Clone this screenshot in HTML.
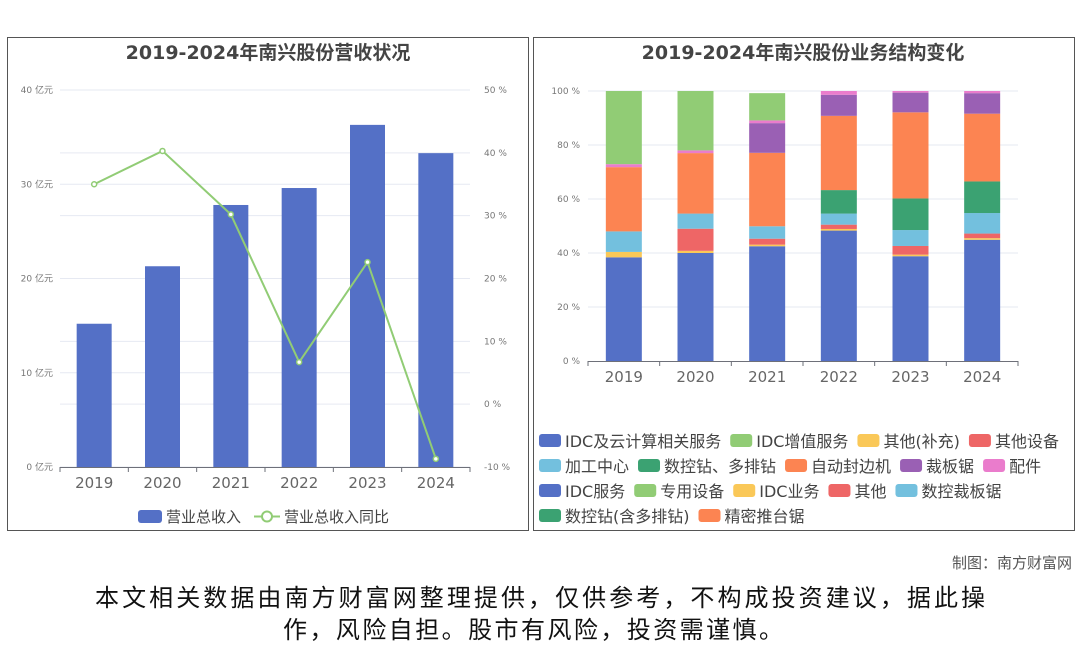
<!DOCTYPE html>
<html><head><meta charset="utf-8">
<style>
body{margin:0;background:#fff;width:1080px;height:646px;overflow:hidden;font-family:"DejaVu Sans","Noto Sans CJK SC",sans-serif;}
svg text{font-family:"DejaVu Sans","Noto Sans CJK SC",sans-serif;}
</style></head><body>
<svg width="1080" height="646" xmlns="http://www.w3.org/2000/svg">
<rect x="7.5" y="37.5" width="521" height="493" fill="#fff" stroke="#555"/>
<rect x="533.5" y="37.5" width="541" height="493" fill="#fff" stroke="#555"/>
<text x="268" y="59" text-anchor="middle" font-size="19" font-weight="bold" fill="#444">2019-2024年南兴股份营收状况</text>
<text x="803" y="59" text-anchor="middle" font-size="19" font-weight="bold" fill="#444">2019-2024年南兴股份业务结构变化</text>
<g id="left"></g>
<g id="right"></g>
<g id="rlegend"></g>
<text x="1072" y="568" text-anchor="end" font-size="15" fill="#555">制图：南方财富网</text>
<text x="95" y="606" textLength="890" lengthAdjust="spacing" font-size="24" fill="#111">本文相关数据由南方财富网整理提供，仅供参考，不构成投资建议，据此操</text>
<text x="283" y="638" textLength="500" lengthAdjust="spacing" font-size="24" fill="#111">作，风险自担。股市有风险，投资需谨慎。</text>
</svg>
<script>
const years=["2019","2020","2021","2022","2023","2024"];
const revenue=[15.2,21.3,27.8,29.6,36.3,33.3];
const growth=[35.0,40.3,30.2,6.7,22.6,-8.7];
const leftTicks=["0 亿元","10 亿元","20 亿元","30 亿元","40 亿元"];
const rightTicks=["-10 %","0 %","10 %","20 %","30 %","40 %","50 %"];
const segNames=["IDC及云计算相关服务","其他(补充)","其他设备","加工中心","数控钻、多排钻","自动封边机","裁板锯","配件","IDC增值服务"];
const segColors=["#5470c6","#fac858","#ee6666","#73c0de","#3ba272","#fc8452","#9a60b4","#ea7ccc","#91cc75"];
const segBlue=[38.4,40.0,42.5,48.3,38.8,44.9];
const segYellow=[2.0,0.8,0.6,0.6,0.6,0.6];
const segRed=[0,8.2,2.2,1.6,3.2,1.7];
const segLightBlue=[7.6,5.6,4.6,4.1,5.9,7.6];
const segDarkGreen=[0,0,0,8.7,11.7,11.7];
const segOrange=[23.8,22.4,27.2,27.5,31.9,25.1];
const segPurple=[0,0,11.0,7.8,7.3,7.6];
const segPink=[1.1,1.0,1.0,1.4,0.6,0.8];
const segGreen=[27.1,22.0,10.1,0,0,0];
const segData=[segBlue,segYellow,segRed,segLightBlue,segDarkGreen,segOrange,segPurple,segPink,segGreen];
const pctTicks=["0 %","20 %","40 %","60 %","80 %","100 %"];
const legendNames=["IDC及云计算相关服务","IDC增值服务","其他(补充)","其他设备","加工中心","数控钻、多排钻","自动封边机","裁板锯","配件","IDC服务","专用设备","IDC业务","其他","数控裁板锯","数控钻(含多排钻)","精密推台锯"];
const legendColors=["#5470c6","#91cc75","#fac858","#ee6666","#73c0de","#3ba272","#fc8452","#9a60b4","#ea7ccc","#5470c6","#91cc75","#fac858","#ee6666","#73c0de","#3ba272","#fc8452"];
const legendRows=[4,5,5,2];

const NS="http://www.w3.org/2000/svg";
function mk(p,t,a){const e=document.createElementNS(NS,t);for(const k in a)e.setAttribute(k,a[k]);p.appendChild(e);return e;}

// LEFT
const L=document.getElementById('left');
const lx0=60,lx1=470,ly0=467,ly1=90;
const band=(lx1-lx0)/years.length;
const xL=i=>lx0+band*(i+0.5);
const yRev=v=>ly0-(v/40)*(ly0-ly1);
const yPct=v=>ly0-((v+10)/60)*(ly0-ly1);
for(let i=0;i<7;i++){const y=ly0-i*(ly0-ly1)/6;
 if(i>0){const g=mk(L,'line',{x1:lx0,x2:lx1,y1:y,y2:y,stroke:'#e6e9f2'});}
 const t=mk(L,'text',{x:lx1+14,y:y+3,'font-size':9,fill:'#777'});t.textContent=rightTicks[i];
 }
for(let i=0;i<5;i++){const y=yRev(i*10);
 const g=mk(L,'line',{x1:lx0,x2:lx1,y1:y,y2:y,stroke:'#e6e9f2'});
 const t=mk(L,'text',{x:53,y:y+3,'font-size':9,fill:'#777','text-anchor':'end'});t.textContent=leftTicks[i];
 }
revenue.forEach((v,i)=>{const r=mk(L,'rect',{x:xL(i)-17.5,y:yRev(v),width:35,height:ly0-yRev(v),fill:'#5470c6'});
 });
const ax=mk(L,'line',{x1:lx0,x2:lx1,y1:ly0+0.5,y2:ly0+0.5,stroke:'#6e7079'});
years.forEach((yr,i)=>{const xx=lx0+band*i;const tk=mk(L,'line',{x1:xx,x2:xx,y1:ly0,y2:ly0+5,stroke:'#6e7079'});
 const t=mk(L,'text',{x:xL(i),y:488,'font-size':15,fill:'#666','text-anchor':'middle'});t.textContent=yr;});
{const tk=mk(L,'line',{x1:lx1,x2:lx1,y1:ly0,y2:ly0+5,stroke:'#6e7079'});}
const pl=mk(L,'polyline',{points:growth.map((v,i)=>xL(i)+','+yPct(v)).join(' '),fill:'none',stroke:'#91cc75','stroke-width':2});

growth.forEach((v,i)=>{const c=mk(L,'circle',{cx:xL(i),cy:yPct(v),r:2.5,fill:'#fff',stroke:'#91cc75','stroke-width':1.5});});
{const r=mk(L,'rect',{x:138,y:510,width:24,height:13,rx:3,fill:'#5470c6'});
 const t=mk(L,'text',{x:166,y:522,'font-size':15,fill:'#444'});t.textContent='营业总收入';
 const l=mk(L,'line',{x1:254,x2:280,y1:516.5,y2:516.5,stroke:'#91cc75','stroke-width':2});
 const c=mk(L,'circle',{cx:267,cy:516.5,r:5,fill:'#fff',stroke:'#91cc75','stroke-width':2});
 const t2=mk(L,'text',{x:284,y:522,'font-size':15,fill:'#444'});t2.textContent='营业总收入同比';}

// RIGHT
const R=document.getElementById('right');
const rx0=588,rx1=1018,ry0=361,ry1=91;
const rb=(rx1-rx0)/years.length;
const xR=i=>rx0+rb*(i+0.5);
const yR=v=>ry0-(v/100)*(ry0-ry1);
pctTicks.forEach((s,i)=>{const y=yR(i*20);
 if(i>0){const g=mk(R,'line',{x1:rx0,x2:rx1,y1:y,y2:y,stroke:'#e6e9f2'});}
 const t=mk(R,'text',{x:580,y:y+3,'font-size':9,fill:'#777','text-anchor':'end'});t.textContent=s;});
years.forEach((yr,i)=>{let acc=0;
 segData.forEach((arr,k)=>{const v=arr[i];if(v>0){const r=mk(R,'rect',{x:xR(i)-18,y:yR(acc+v),width:36,height:yR(acc)-yR(acc+v),fill:segColors[k]});
  }acc+=v;});
 const t=mk(R,'text',{x:xR(i),y:382,'font-size':15,fill:'#666','text-anchor':'middle'});t.textContent=yr;
 const tk=mk(R,'line',{x1:rx0+rb*i,x2:rx0+rb*i,y1:ry0,y2:ry0+5,stroke:'#6e7079'});});
{const tk=mk(R,'line',{x1:rx1,x2:rx1,y1:ry0,y2:ry0+5,stroke:'#6e7079'});
 const a=mk(R,'line',{x1:rx0,x2:rx1,y1:ry0+0.5,y2:ry0+0.5,stroke:'#6e7079'});}

// legend
const G=document.getElementById('rlegend');
let idx=0;
legendRows.forEach((n,row)=>{let x=539;const y=441+row*25;
 for(let j=0;j<n;j++,idx++){const r=mk(G,'rect',{x:x,y:y-7,width:22,height:13,rx:3,fill:legendColors[idx]});
  
  const t=mk(G,'text',{x:x+26,y:y+6,'font-size':16,fill:'#444'});t.textContent=legendNames[idx];
  
  x+=26+t.getComputedTextLength()+9;}});
</script>
</body></html>
